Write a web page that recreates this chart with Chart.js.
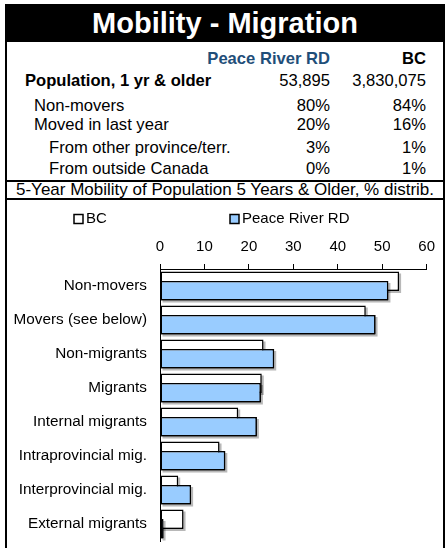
<!DOCTYPE html>
<html>
<head>
<meta charset="utf-8">
<title>Mobility - Migration</title>
<script src="https://cdn.jsdelivr.net/npm/chart.js@4.4.1/dist/chart.umd.min.js"></script>
<style>
    body { margin: 0; background: #fff; font-family: Arial, "Liberation Sans", sans-serif; color: #000; }
    .title { position: absolute; left: 5px; top: 4px; width: 440px; height: 38px; background: #000; color: #fff;
             font-weight: bold; font-size: 29px; line-height: 38px; text-align: center; }
    .tbl { position: absolute; left: 5px; top: 42px; width: 440px; height: 140px; box-sizing: border-box;
           border: 2px solid #000; border-top: none; font-size: 16.6px; }
    .tbl div { position: absolute; height: 20px; line-height: 20px; white-space: nowrap; }
    .bold { font-weight: bold; }
    .sub { position: absolute; left: 5px; top: 182px; width: 440px; height: 18px; box-sizing: border-box;
           border: 2px solid #000; border-top: none; font-size: 17px; line-height: 16px; text-align: center; white-space: nowrap; }
    .chart-box { position: absolute; left: 5px; top: 200px; width: 440px; height: 360px; box-sizing: border-box;
                 border-left: 2px solid #000; border-right: 2px solid #000; }
    .chart-box canvas { position: absolute; left: 0; top: 0; }
</style>
</head>
<body>
<div class="title">Mobility - Migration</div>
<div class="tbl">
    <div class="bold" style="top:7px; right:113px; color:#1F4E79;">Peace River RD</div>
    <div class="bold" style="top:7px; right:17px;">BC</div>
    <div class="bold" style="top:29px; left:18px;">Population, 1 yr &amp; older</div>
    <div style="top:29px; right:113px;">53,895</div>
    <div style="top:29px; right:17px;">3,830,075</div>
    <div style="top:54px; left:27px;">Non-movers</div>
    <div style="top:54px; right:113px;">80%</div>
    <div style="top:54px; right:17px;">84%</div>
    <div style="top:73px; left:27px;">Moved in last year</div>
    <div style="top:73px; right:113px;">20%</div>
    <div style="top:73px; right:17px;">16%</div>
    <div style="top:96px; left:42px;">From other province/terr.</div>
    <div style="top:96px; right:113px;">3%</div>
    <div style="top:96px; right:17px;">1%</div>
    <div style="top:117px; left:42px;">From outside Canada</div>
    <div style="top:117px; right:113px;">0%</div>
    <div style="top:117px; right:17px;">1%</div>
</div>
<div class="sub">5-Year Mobility of Population 5 Years &amp; Older, % distrib.</div>
<div class="chart-box">
    <canvas id="mobility-chart" width="436" height="348"></canvas>
</div>

<script>
// Chart data
const categories = ['Non-movers', 'Movers (see below)', 'Non-migrants', 'Migrants',
    'Internal migrants', 'Intraprovincial mig.', 'Interprovincial mig.', 'External migrants'];
const bcValues = [53.8, 46.3, 23.3, 22.9, 17.6, 13.4, 4.1, 5.3];
const peaceRiverValues = [51.4, 48.5, 25.7, 22.7, 21.8, 14.7, 7.0, 0.8];
const xTicks = [0, 10, 20, 30, 40, 50, 60];

Chart.defaults.font.family = 'Arial, "Liberation Sans", sans-serif';
Chart.defaults.font.size = 15;
Chart.defaults.color = '#000';

// Excel-like drop shadow under the bars
function drawShadows(chart, index) {
    const ctx = chart.ctx;
    const meta = chart.getDatasetMeta(index);
    ctx.save();
    ctx.fillStyle = 'rgba(0, 0, 0, 0.28)';
    meta.data.forEach(function(bar) {
        const p = bar.getProps(['x', 'y', 'base', 'height'], true);
        ctx.fillRect(Math.min(p.base, p.x) + 2, p.y - p.height / 2 + 2, Math.abs(p.x - p.base), p.height);
    });
    ctx.restore();
}

// BC sits above, but Peace River RD bars overlap it, so draw them again on top
const overlapPlugin = {
    id: 'overlap',
    beforeDatasetsDraw(chart) {
        drawShadows(chart, 0);
    },
    afterDatasetsDraw(chart) {
        drawShadows(chart, 1);
        chart.getDatasetMeta(1).controller.draw();
    }
};

// Legend spaced like the original
const legendX = [67, 223];
const legendPlugin = {
    id: 'spacedLegend',
    afterDraw(chart) {
        const ctx = chart.ctx;
        ctx.save();
        ctx.font = '15px Arial, "Liberation Sans", sans-serif';
        ctx.textBaseline = 'middle';
        chart.data.datasets.forEach(function(ds, i) {
            const x = legendX[i];
            ctx.fillStyle = ds.backgroundColor;
            ctx.fillRect(x, 14.5, 9, 9);
            ctx.strokeStyle = '#000';
            ctx.lineWidth = 1.5;
            ctx.strokeRect(x, 14.5, 9, 9);
            ctx.fillStyle = '#000';
            ctx.fillText(ds.label, x + 12, 19);
        });
        ctx.restore();
    }
};

function initMobilityChart() {
    const ctx = document.getElementById('mobility-chart');
    if(ctx) {
        new Chart(ctx, {
            type: 'bar',
            data: {
                labels: categories,
                datasets: [{
                    label: 'BC',
                    data: bcValues,
                    backgroundColor: '#ffffff',
                    borderColor: '#000000',
                    borderWidth: 1.5,
                    borderSkipped: false
                }, {
                    label: 'Peace River RD',
                    data: peaceRiverValues,
                    backgroundColor: '#99CCFF',
                    borderColor: '#000000',
                    borderWidth: 1.5,
                    borderSkipped: false
                }]
            },
            options: {
                indexAxis: 'y',
                responsive: false,
                animation: false,
                categoryPercentage: 0.56,
                barPercentage: 2.05,
                layout: {
                    padding: { top: 29, right: 16, bottom: 7, left: 0 }
                },
                plugins: {
                    legend: { display: false },
                    tooltip: { enabled: false }
                },
                scales: {
                    x: {
                        position: 'top',
                        min: xTicks[0],
                        max: xTicks[xTicks.length - 1],
                        afterBuildTicks: function(scale) {
                            scale.ticks = xTicks.map(function(v) { return { value: v }; });
                        },
                        afterFit: function(scale) {
                            scale.height = 40;
                        },
                        grid: {
                            drawOnChartArea: false,
                            drawTicks: true,
                            tickLength: 5,
                            color: '#000',
                            lineWidth: 1
                        },
                        border: { display: true, color: '#000', width: 1 },
                        ticks: { padding: 8, color: '#000', font: { size: 15 } }
                    },
                    y: {
                        afterFit: function(scale) {
                            scale.width = 153;
                            scale.paddingTop = 0;
                            scale.paddingBottom = 0;
                        },
                        grid: { display: false, drawTicks: false },
                        border: { display: true, color: '#000', width: 1 },
                        ticks: { padding: 13, color: '#000', font: { size: 15.3 } }
                    }
                }
            },
            plugins: [overlapPlugin, legendPlugin]
        });
    }
}

initMobilityChart();
</script>
</body>
</html>
